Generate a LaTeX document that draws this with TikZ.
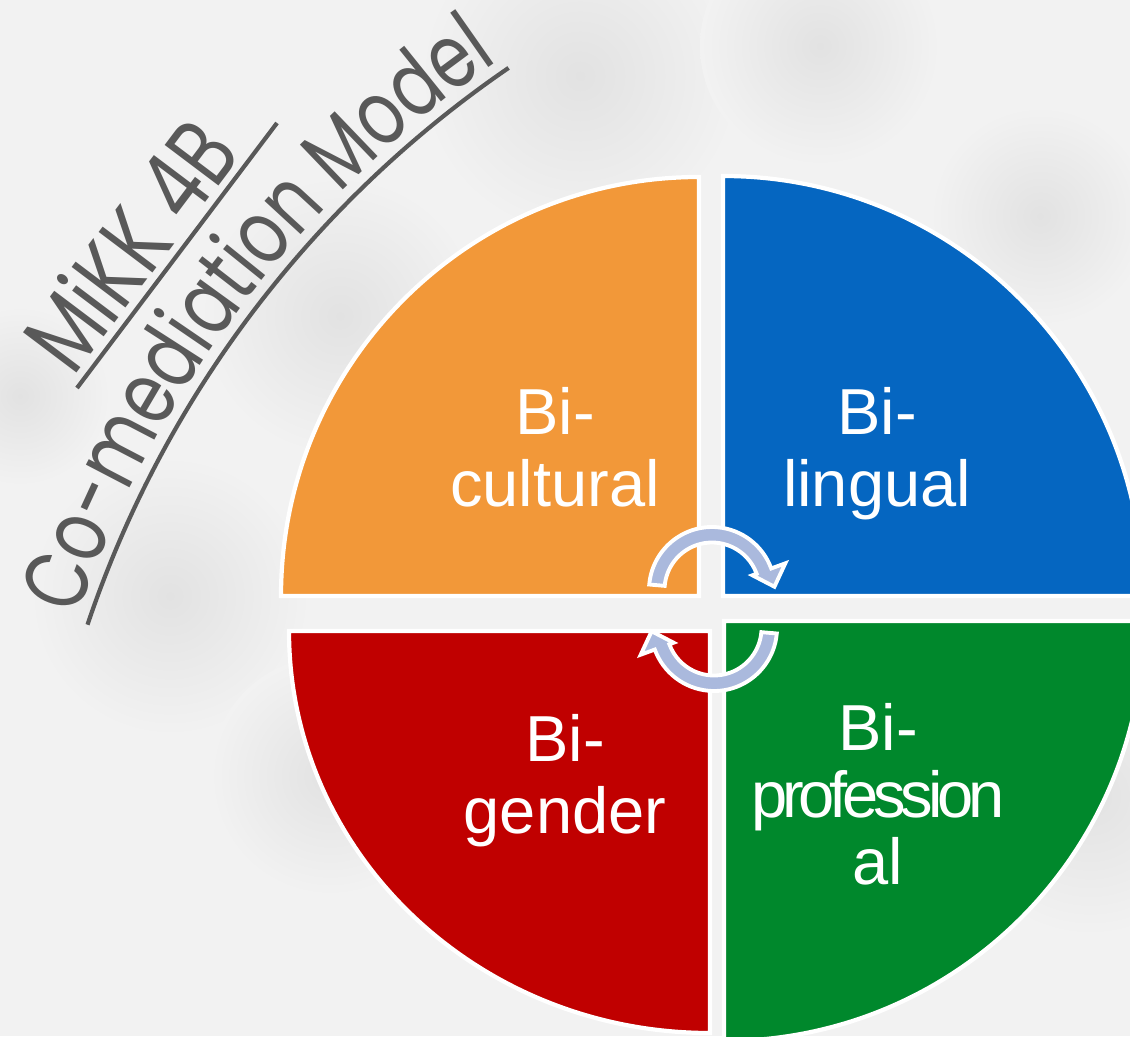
\documentclass[tikz,border=0pt]{standalone}
\usepackage{fontspec}
\setmainfont{Liberation Sans}
\newfontfamily\titlefont{Poppins}[FakeStretch=0.76]
\usetikzlibrary{decorations.text}
\definecolor{bgwash}{HTML}{F2F2F2}
\definecolor{bgshade}{HTML}{E2E2E2}
\definecolor{titlegray}{HTML}{595959}
\definecolor{quadorange}{HTML}{F29839}
\definecolor{quadblue}{HTML}{0566C1}
\definecolor{quadred}{HTML}{C00000}
\definecolor{quadgreen}{HTML}{00882C}
\definecolor{arrowblue}{HTML}{AAB9DD}
\tikzset{>=stealth,
  quad/.style={draw=white, line width=1.2pt},
  quadtext/.style={text=white, font=\fontsize{18.5}{20.5}\selectfont, align=center, inner sep=0pt, anchor=north},
  cyclearrow/.style={fill=arrowblue, draw=white, line width=1.1pt},
  titleline/.style={draw=titlegray, line width=1.2pt},
  titletext/.style={text=titlegray, font=\titlefont\fontsize{27.5}{28}\selectfont, inner sep=0pt}
}

\begin{document}
\begin{tikzpicture}
\useasboundingbox (0,0) rectangle (11.3,10.36);
\begin{scope}
\clip (0,0) rectangle (11.3,10.36);
\fill[bgwash] (0,0) rectangle (11.3,10.36);
% mottled backdrop
\foreach \x/\y/\r in {5.8/9.6/1.6, 3.4/7.2/1.4, 1.7/4.4/1.4, 10.9/2.4/1.4, 3.3/2.6/1.2, 8.2/9.9/1.2, 10.4/8.2/1.1, 0.2/6.4/0.9}
  \shade[inner color=bgshade, outer color=bgwash] (\x,\y) circle (\r);

% the four quarters
\filldraw[quad, fill=quadorange] (6.99,4.40) -- (2.81,4.40) arc[start angle=180, end angle=90, x radius=4.18, y radius=4.19] -- cycle;
\filldraw[quad, fill=quadblue] (7.23,4.40) -- (7.23,8.60) arc[start angle=90, end angle=0, radius=4.20] -- cycle;
\filldraw[quad, fill=quadred] (7.10,4.05) -- (2.89,4.05) arc[start angle=180, end angle=270, x radius=4.21, y radius=4.02] -- cycle;
\filldraw[quad, fill=quadgreen] (7.24,4.15) -- (7.24,-0.05) arc[start angle=270, end angle=360, radius=4.20] -- cycle;
\end{scope}

\node[quadtext] (cultural) at (5.55,6.49) {Bi-\\cultural};
\node[quadtext] (lingual) at (8.77,6.49) {Bi-\\lingual};
\node[quadtext] (gender) at (5.65,3.22) {Bi-\\gender};
\node[quadtext, font=\fontsize{18.5}{19}\selectfont] (prof) at (8.78,3.33)
  {Bi-\\{\addfontfeature{LetterSpace=-8}profession}\\al};

% circular arrows in the middle
\begin{scope}[shift={(7.12,4.46)}]
\filldraw[cyclearrow] (175:0.63) arc[start angle=175, end angle=20, radius=0.63] -- (20:0.78) -- (3:0.625) -- (20:0.43) -- (20:0.475) arc[start angle=20, end angle=175, radius=0.475] -- cycle;
\end{scope}
\begin{scope}[shift={(7.14,4.08)}, rotate=180]
\filldraw[cyclearrow] (175:0.63) arc[start angle=175, end angle=20, radius=0.63] -- (20:0.78) -- (3:0.625) -- (20:0.43) -- (20:0.475) arc[start angle=20, end angle=175, radius=0.475] -- cycle;
\end{scope}

% title
\draw[titleline] (0.77,6.48) -- (2.77,9.13);
\node[titletext, rotate=53, anchor=base] (mikk) at (1.58,7.70) {MiKK 4B};
\draw[titleline] (11.30,0.605) ++(161.4:11.0) arc[start angle=161.4, end angle=124.4, radius=11.0];
\path[decorate, decoration={text along path, text align=center,
  text={|\titlefont\fontsize{25.5}{26}\selectfont\color{titlegray}|Co-mediation Model}}]
  (11.30,0.605) ++(161:11.12) arc[start angle=161, end angle=124.8, radius=11.12];
\end{tikzpicture}
\end{document}
